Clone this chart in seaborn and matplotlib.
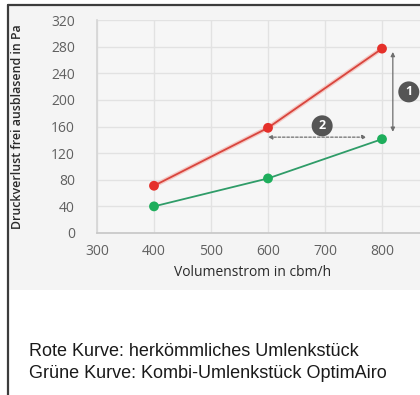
import matplotlib
matplotlib.use("Agg")
import matplotlib.pyplot as plt
import matplotlib.patheffects as pe
from matplotlib.lines import Line2D
from matplotlib.patches import Rectangle
import pandas as pd
import seaborn as sns

# Volumenstrom (cbm/h) und Druckverlust (Pa)
volumenstrom = [400, 600, 800]
druck_rot = [71, 158, 277]      # herkömmliches Umlenkstück
druck_gruen = [40, 82, 141]     # Kombi-Umlenkstück OptimAiro
x_ticks = [300, 400, 500, 600, 700, 800]
y_ticks = [0, 40, 80, 120, 160, 200, 240, 280, 320]

df = pd.DataFrame({
    "Volumenstrom": volumenstrom * 2,
    "Druck": druck_rot + druck_gruen,
    "Kurve": ["rot"] * 3 + ["gruen"] * 3,
})

sns.set_theme(style="white")
plt.rcParams["font.family"] = ["Open Sans", "DejaVu Sans"]

W, H = 420, 395
fig = plt.figure(figsize=(W / 100, H / 100), dpi=100)
fig.patch.set_facecolor("white")

# light grey chart panel behind the axes
fig.add_artist(Rectangle((9 / W, 1 - 290 / H), 1, 284 / H,
                         transform=fig.transFigure, facecolor="#f4f4f4",
                         edgecolor="none", zorder=0))
# dark frame on the left and top
fig.add_artist(Line2D([8 / W, 8 / W], [0, 1 - 5 / H], transform=fig.transFigure,
                      color="#3c3c3c", lw=1.6, zorder=5))
fig.add_artist(Line2D([8 / W, 1], [1 - 5 / H, 1 - 5 / H], transform=fig.transFigure,
                      color="#3c3c3c", lw=1.6, zorder=5))

ax = fig.add_axes([97 / W, 1 - 233 / H, 342 / W, 213 / H])
ax.set_facecolor("#f6f6f6")

palette = {"rot": "#d8453d", "gruen": "#2f9c68"}
sns.lineplot(data=df, x="Volumenstrom", y="Druck", hue="Kurve", palette=palette,
             lw=1.3, legend=False, ax=ax, zorder=3)
for line in ax.get_lines():
    if line.get_color() == palette["rot"]:
        line.set_path_effects([pe.Stroke(linewidth=3.2, foreground="#f5c8c4"), pe.Normal()])
sns.scatterplot(data=df, x="Volumenstrom", y="Druck", hue="Kurve",
                palette={"rot": "#e5302a", "gruen": "#1eae5c"},
                s=50, edgecolor="none", legend=False, ax=ax, zorder=4)

ax.set_xlim(300, 900)
ax.set_ylim(0, 320)
ax.set_xticks(x_ticks)
ax.set_yticks(y_ticks)
ax.grid(True, color="#e2e2e2", lw=1.0)
ax.set_axisbelow(True)
for side in ["top", "right"]:
    ax.spines[side].set_visible(False)
ax.spines["left"].set_color("#d6d6d6")
ax.spines["bottom"].set_color("#c8c8c8")
ax.tick_params(axis="both", length=0, labelsize=10, labelcolor="#606060", pad=8)
ax.tick_params(axis="y", pad=16)

ax.set_xlabel("Volumenstrom in cbm/h", fontsize=10, color="#2a2a2a")
ax.set_ylabel("Druckverlust frei ausblasend in Pa", fontsize=8.9, color="#2a2a2a",
              fontweight="semibold")
ax.xaxis.set_label_coords((253 - 97) / 342, -(265 - 233) / 213)
ax.yaxis.set_label_coords(-(97 - 24) / 342, (233 - 127) / 213)

# Pfeile: Druckdifferenz (1) und Volumenstromgewinn (2)
arrow_grey = "#6e6e6e"
ax.annotate("", xy=(819, 152), xytext=(819, 272),
            arrowprops=dict(arrowstyle="<|-|>", color=arrow_grey, lw=0.9,
                            mutation_scale=6, shrinkA=0, shrinkB=0))
ax.annotate("", xy=(773, 144), xytext=(600, 144),
            arrowprops=dict(arrowstyle="<|-|>", color=arrow_grey, lw=0.9, ls=(0, (2, 1.5)),
                            mutation_scale=6, shrinkA=0, shrinkB=0))
for num, (cx, cy) in [("1", (847, 212)), ("2", (695, 161))]:
    ax.text(cx, cy, num, ha="center", va="center", fontsize=9, fontweight="bold",
            color="white", zorder=6,
            bbox=dict(boxstyle="circle,pad=0.32", fc="#555555", ec="none"))

# Beschriftung der Kurven
fig.text(29 / W, 1 - 352 / H, "Rote Kurve: herkömmliches Umlenkstück",
         fontsize=13, family="Liberation Sans", color="#1a1a1a", va="center")
fig.text(29 / W, 1 - 373 / H, "Grüne Kurve: Kombi-Umlenkstück OptimAiro",
         fontsize=13, family="Liberation Sans", color="#1a1a1a", va="center")

fig.savefig("out.png", dpi=100)
